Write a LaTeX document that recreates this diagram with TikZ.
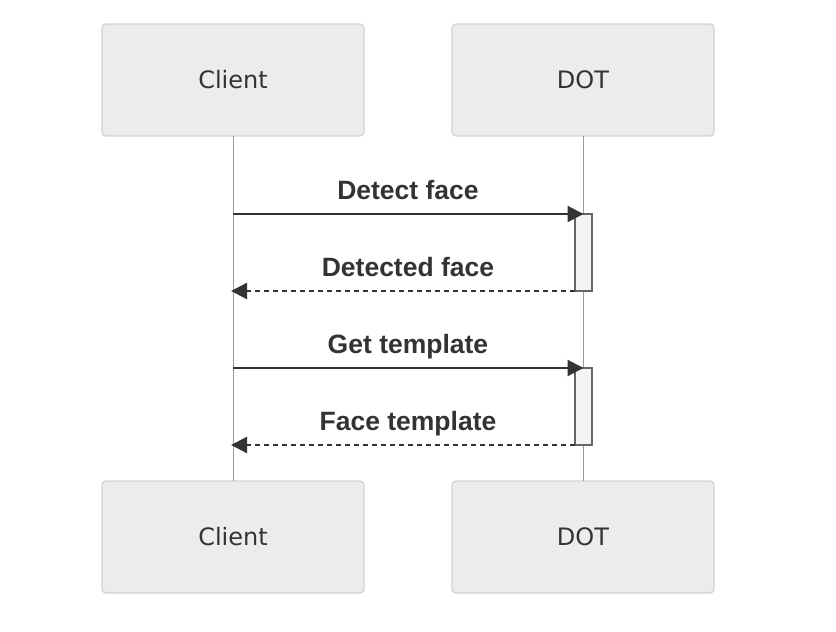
\documentclass[tikz,border=0pt]{standalone}
\usepackage{fontspec}
\usetikzlibrary{arrows.meta}
\newfontfamily\actorfont{DejaVu Sans}
\newfontfamily\msgfont{Liberation Sans}
\definecolor{actfill}{HTML}{ECECEC}
\definecolor{actline}{HTML}{D3D3D3}
\definecolor{txt}{HTML}{333333}
\definecolor{life}{HTML}{999999}
\definecolor{actvfill}{HTML}{F4F4F4}
\definecolor{actvline}{HTML}{666666}
\tikzset{
  actor/.style={draw=actline, line width=1.3pt, fill=actfill, rounded corners=4pt,
    minimum width=262pt, minimum height=112pt, inner sep=0pt, outer sep=0pt,
    font=\actorfont\fontsize{24pt}{28pt}\selectfont, text=txt},
  lifeline/.style={draw=life, line width=0.9pt},
  activation/.style={draw=actvline, line width=1.3pt, fill=actvfill,
    minimum width=17pt, minimum height=77pt, inner sep=0pt, outer sep=0pt},
  msgtext/.style={font=\msgfont\bfseries\fontsize{26.5pt}{30pt}\selectfont, text=txt},
  callarrow/.style={draw=txt, line width=2.2pt, -{Triangle[length=16pt,width=16pt]}},
  replyarrow/.style={draw=txt, line width=2.2pt, dash pattern=on 5pt off 4pt,
    -{Triangle[length=16pt,width=16pt]}, shorten >=-2pt},
}
\begin{document}
\begin{tikzpicture}[x=1pt,y=1pt]
\useasboundingbox (0,0) rectangle (836,-632);
\node[actor] (c1) at (233,-80) {Client};
\node[actor] (d1) at (583,-80) {DOT};
\node[actor] (c2) at (233,-537) {Client};
\node[actor] (d2) at (583,-537) {DOT};
\draw[lifeline] (c1.south) -- (c2.north);
\draw[lifeline] (d1.south) -- (d2.north);
\node[activation] (a1) at (583.5,-252.5) {};
\node[activation] (a2) at (583.5,-406.5) {};
\coordinate (m1) at (233,-214);
\coordinate (r1) at (233,-291);
\coordinate (m2) at (233,-368);
\coordinate (r2) at (233,-445);
\draw[callarrow] (m1) -- (a1.north);
\draw[replyarrow] (a1.south west) -- (r1);
\draw[callarrow] (m2) -- (a2.north);
\draw[replyarrow] (a2.south west) -- (r2);
\node[msgtext] (t1) at (408,-190) {Detect face};
\node[msgtext] (t2) at (408,-267) {Detected face};
\node[msgtext] (t3) at (408,-346.5) {Get template};
\node[msgtext] (t4) at (408,-423.5) {Face template};
\end{tikzpicture}
\end{document}
